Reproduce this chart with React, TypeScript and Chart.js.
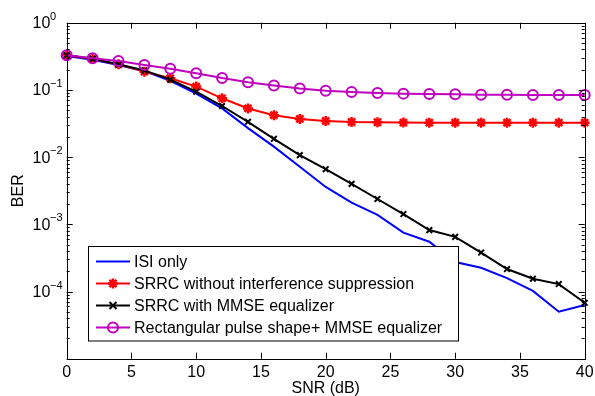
import React, { useEffect, useRef } from "react";
import { Chart, registerables } from "chart.js";

Chart.register(...registerables);

const snr = [0, 2, 4, 6, 8, 10, 12, 14, 16, 18, 20, 22, 24, 26, 28, 30, 32, 34, 36, 38, 40];
const isiOnly = [0.32, 0.28, 0.235, 0.19, 0.136, 0.088, 0.053, 0.027, 0.0143, 0.0072, 0.0036, 0.0021, 0.00138, 0.00075, 0.00055, 0.000275, 0.000226, 0.000158, 0.000102, 0.00005, 0.000063];
const srrcNoSuppression = [0.327, 0.288, 0.24, 0.187, 0.149, 0.112, 0.075, 0.053, 0.042, 0.037, 0.0345, 0.0333, 0.033, 0.0326, 0.0325, 0.0325, 0.0325, 0.0325, 0.0325, 0.0325, 0.0325];
const srrcMmse = [0.327, 0.29, 0.24, 0.195, 0.142, 0.094, 0.0576, 0.0335, 0.0187, 0.0107, 0.0066, 0.004, 0.00238, 0.00142, 0.00082, 0.00065, 0.00038, 0.000216, 0.000155, 0.000129, 0.000068];
const rectMmse = [0.327, 0.295, 0.269, 0.235, 0.207, 0.177, 0.15, 0.13, 0.116, 0.105, 0.097, 0.093, 0.09, 0.088, 0.087, 0.086, 0.085, 0.085, 0.084, 0.084, 0.084];

const seriesLabels = [
  "ISI only",
  "SRRC without interference suppression",
  "SRRC with MMSE equalizer",
  "Rectangular pulse shape+ MMSE equalizer",
];
const xTicks = [0, 5, 10, 15, 20, 25, 30, 35, 40];
const yExponents = [0, -1, -2, -3, -4, -5];
const yLabelExponents = [0, -1, -2, -3, -4];
const xTitle = "SNR (dB)";
const yTitle = "BER";

const FONT = '"Liberation Sans", Arial, Helvetica, sans-serif';
const COLORS = ["#0000FF", "#FF0000", "#000000", "#BF00BF"];
const MARKERS = ["none", "star", "x", "circle"];

function drawMarker(ctx: CanvasRenderingContext2D, kind: string, x: number, y: number, color: string) {
  ctx.save();
  ctx.strokeStyle = color;
  ctx.lineWidth = 2;
  ctx.beginPath();
  if (kind === "circle") {
    ctx.arc(x, y, 5, 0, Math.PI * 2);
  } else if (kind === "x") {
    const r = 3.5;
    ctx.moveTo(x - r, y - r); ctx.lineTo(x + r, y + r);
    ctx.moveTo(x - r, y + r); ctx.lineTo(x + r, y - r);
  } else if (kind === "star") {
    const r = 5;
    ctx.lineWidth = 2.5;
    for (let i = 0; i < 4; i++) {
      const a = (i * Math.PI) / 4;
      ctx.moveTo(x - r * Math.cos(a), y - r * Math.sin(a));
      ctx.lineTo(x + r * Math.cos(a), y + r * Math.sin(a));
    }
  }
  if (kind !== "none") ctx.stroke();
  ctx.restore();
}

const matlabAxes = {
  id: "matlabAxes",
  afterDraw(chart: any) {
    const ctx: CanvasRenderingContext2D = chart.ctx;
    const { left, right, top, bottom } = chart.chartArea;
    const xs = chart.scales.x;
    const ys = chart.scales.y;
    ctx.save();
    // box
    ctx.strokeStyle = "#000";
    ctx.lineWidth = 1;
    ctx.strokeRect(Math.round(left) + 0.5, Math.round(top) + 0.5, Math.round(right - left), Math.round(bottom - top));
    // x ticks
    ctx.beginPath();
    for (const t of xTicks) {
      const px = Math.round(xs.getPixelForValue(t)) + 0.5;
      ctx.moveTo(px, bottom); ctx.lineTo(px, bottom - 6);
      ctx.moveTo(px, top); ctx.lineTo(px, top + 6);
    }
    // y ticks
    for (const e of yExponents) {
      const py = Math.round(ys.getPixelForValue(Math.pow(10, e))) + 0.5;
      ctx.moveTo(left, py); ctx.lineTo(left + 6, py);
      ctx.moveTo(right, py); ctx.lineTo(right - 6, py);
      if (e < 0) {
        for (let m = 2; m <= 9; m++) {
          const pm = Math.round(ys.getPixelForValue(m * Math.pow(10, e))) + 0.5;
          ctx.moveTo(left, pm); ctx.lineTo(left + 3, pm);
          ctx.moveTo(right, pm); ctx.lineTo(right - 3, pm);
        }
      }
    }
    ctx.stroke();
    // x tick labels
    ctx.fillStyle = "#000";
    ctx.font = `16px ${FONT}`;
    ctx.textAlign = "center";
    ctx.textBaseline = "middle";
    for (const t of xTicks) {
      ctx.fillText(String(t), xs.getPixelForValue(t), bottom + 14);
    }
    // x title
    ctx.fillText(xTitle, (left + right) / 2, bottom + 30);
    // y tick labels
    for (const e of yLabelExponents) {
      const py = ys.getPixelForValue(Math.pow(10, e));
      ctx.font = `16px ${FONT}`;
      ctx.textAlign = "left";
      ctx.fillText("10", 32.5, py + 1);
      ctx.font = `11px ${FONT}`;
      ctx.fillText(e === 0 ? "0" : "\u2212" + String(-e), 50, py - 6);
    }
    // y title
    ctx.save();
    ctx.translate(19, (top + bottom) / 2);
    ctx.rotate(-Math.PI / 2);
    ctx.font = `16px ${FONT}`;
    ctx.textAlign = "center";
    ctx.fillText(yTitle, 0, 0);
    ctx.restore();

    // legend
    const lx = 88.5, ly = 246.5, lw = 370, lh = 94.5;
    ctx.fillStyle = "#fff";
    ctx.fillRect(lx, ly, lw, lh);
    ctx.strokeStyle = "#000";
    ctx.lineWidth = 1;
    ctx.strokeRect(lx, ly, lw, lh);
    const rowY = [261.5, 283.5, 305.5, 327.5];
    seriesLabels.forEach((lab, i) => {
      const y = rowY[i];
      ctx.strokeStyle = COLORS[i];
      ctx.lineWidth = 2;
      ctx.beginPath();
      ctx.moveTo(96, y); ctx.lineTo(130, y);
      ctx.stroke();
      drawMarker(ctx, MARKERS[i], 113, y, COLORS[i]);
      ctx.fillStyle = "#000";
      ctx.font = `16px ${FONT}`;
      ctx.textAlign = "left";
      ctx.textBaseline = "middle";
      ctx.fillText(lab, 134, y + 1);
    });
    ctx.restore();
  },
};

export default function App() {
  const ref = useRef<HTMLCanvasElement | null>(null);
  useEffect(() => {
    if (!ref.current) return;
    const toPts = (arr: number[]) => snr.map((x, i) => ({ x, y: arr[i] }));
    const seriesValues = [isiOnly, srrcNoSuppression, srrcMmse, rectMmse];
    const pointStyles: any[] = [false, "star", "crossRot", "circle"];
    const radii = [0, 5, 4, 5];
    const pbw = [2, 2.5, 2, 2];
    const datasets = seriesValues.map((vals, i) => ({
      label: seriesLabels[i],
      data: toPts(vals),
      borderColor: COLORS[i],
      backgroundColor: "rgba(0,0,0,0)",
      borderWidth: 2,
      pointStyle: pointStyles[i],
      pointRadius: radii[i],
      pointBorderWidth: pbw[i],
      pointBorderColor: COLORS[i],
      pointBackgroundColor: "rgba(0,0,0,0)",
      tension: 0,
      clip: false as any,
      order: 4 - i,
    }));
    const chart = new Chart(ref.current, {
      type: "line",
      data: { datasets },
      options: {
        animation: false,
        responsive: false,
        devicePixelRatio: 1,
        layout: { padding: { left: 66.7, top: 22.7, right: 10.3, bottom: 37.3 } },
        plugins: { legend: { display: false }, tooltip: { enabled: false } },
        scales: {
          x: { type: "linear", min: 0, max: 40, display: false },
          y: { type: "logarithmic", min: 1e-5, max: 1, display: false },
        },
      },
      plugins: [matlabAxes],
    });
    return () => chart.destroy();
  }, []);
  return (
    <div style={{ position: "fixed", left: 0, top: 0, width: 595, height: 396, background: "#fff" }}>
      <canvas ref={ref} width={595} height={396} style={{ display: "block", width: 595, height: 396 }} />
    </div>
  );
}
